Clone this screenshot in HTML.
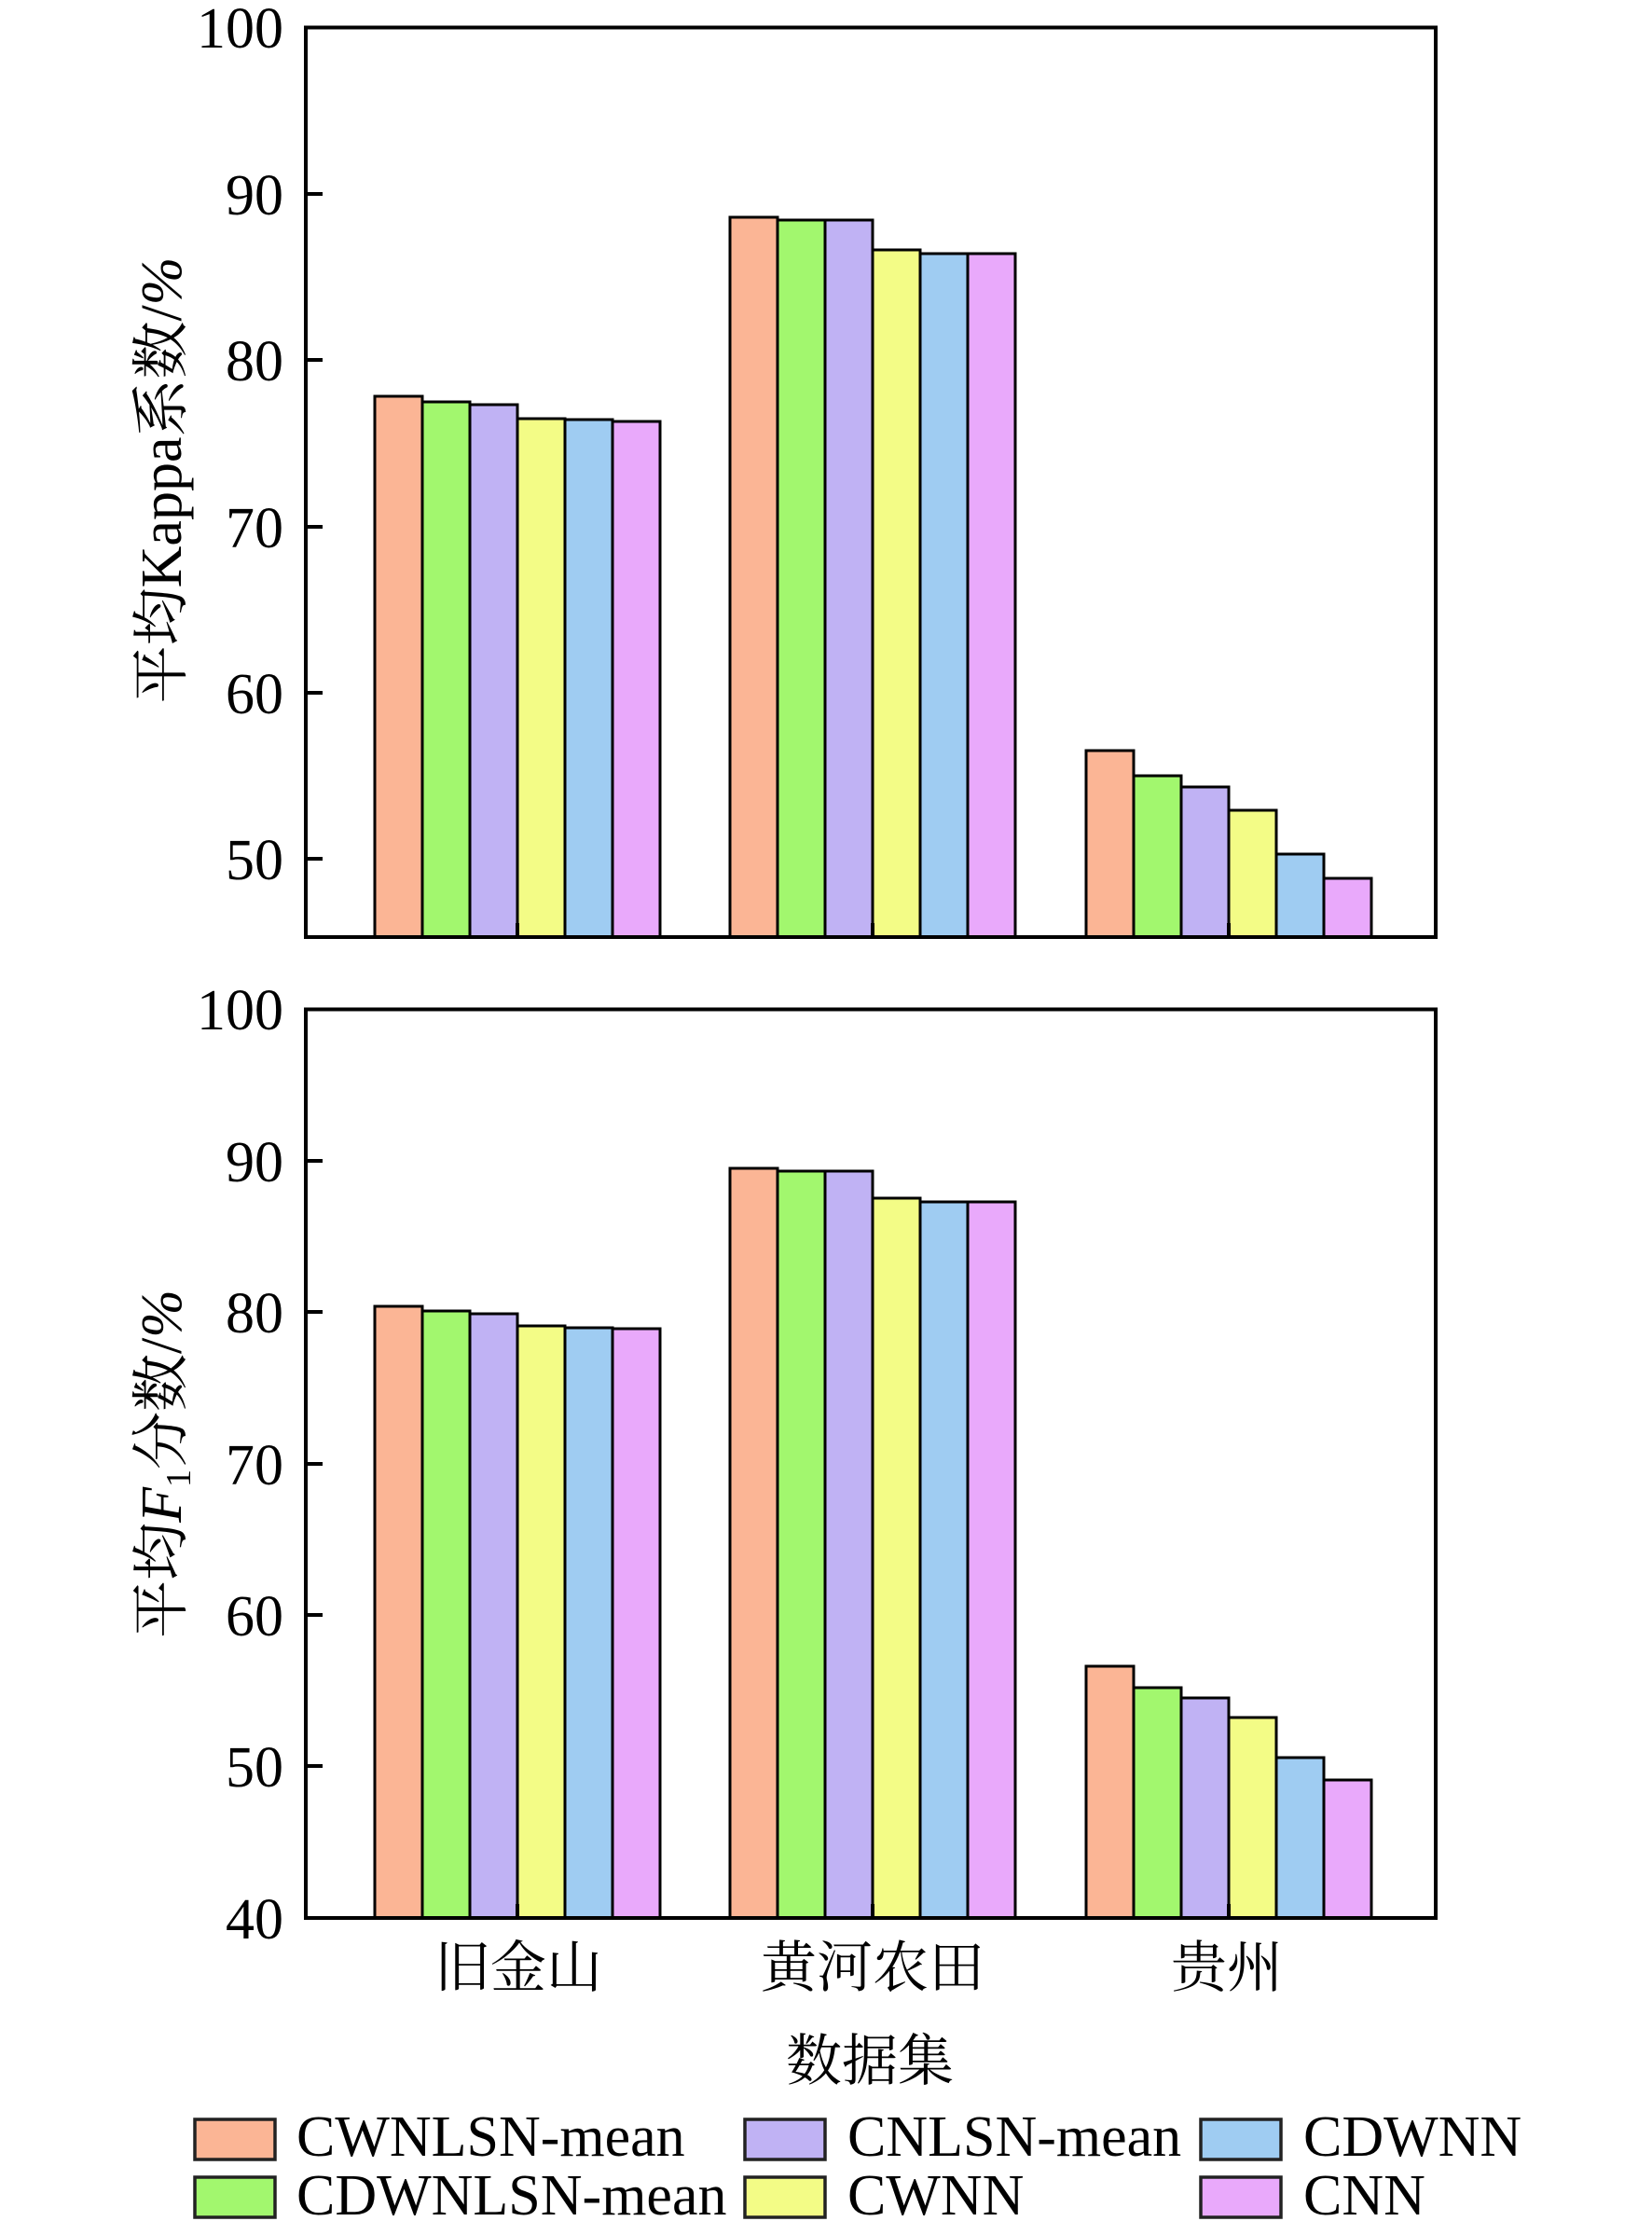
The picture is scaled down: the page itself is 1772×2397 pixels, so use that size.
<!DOCTYPE html>
<html><head><meta charset="utf-8"><style>html,body{margin:0;padding:0;background:#fff}svg{display:block}</style></head>
<body>
<svg xmlns="http://www.w3.org/2000/svg" width="1772" height="2397" viewBox="0 0 1772 2397">
<rect width="1772" height="2397" fill="#fff"/>
<g font-family="Liberation Serif, 'Noto Serif CJK SC', serif" fill="#000">
<g stroke="#000" stroke-width="3" fill="none">
<rect x="402" y="425" width="51" height="580" fill="#FBB595"/>
<rect x="453" y="431" width="51" height="574" fill="#A2F76E"/>
<rect x="504" y="434" width="51" height="571" fill="#C0B2F4"/>
<rect x="555" y="449" width="51" height="556" fill="#F3FC86"/>
<rect x="606" y="450" width="51" height="555" fill="#9FCCF2"/>
<rect x="657" y="452" width="51" height="553" fill="#E9A9FB"/>
<rect x="783" y="233" width="51" height="772" fill="#FBB595"/>
<rect x="834" y="236" width="51" height="769" fill="#A2F76E"/>
<rect x="885" y="236" width="51" height="769" fill="#C0B2F4"/>
<rect x="936" y="268" width="51" height="737" fill="#F3FC86"/>
<rect x="987" y="272" width="51" height="733" fill="#9FCCF2"/>
<rect x="1038" y="272" width="51" height="733" fill="#E9A9FB"/>
<rect x="1165" y="805" width="51" height="200" fill="#FBB595"/>
<rect x="1216" y="832" width="51" height="173" fill="#A2F76E"/>
<rect x="1267" y="844" width="51" height="161" fill="#C0B2F4"/>
<rect x="1318" y="869" width="51" height="136" fill="#F3FC86"/>
<rect x="1369" y="916" width="51" height="89" fill="#9FCCF2"/>
<rect x="1420" y="942" width="51" height="63" fill="#E9A9FB"/>
</g>
<rect x="328" y="29.5" width="1212" height="975.5" fill="none" stroke="#000" stroke-width="4"/>
<g stroke="#000" stroke-width="4">
<line x1="328" y1="208" x2="346" y2="208"/><line x1="328" y1="386" x2="346" y2="386"/>
<line x1="328" y1="565" x2="346" y2="565"/><line x1="328" y1="743" x2="346" y2="743"/>
<line x1="328" y1="921" x2="346" y2="921"/>
<line x1="555" y1="1005" x2="555" y2="990"/><line x1="936" y1="1005" x2="936" y2="990"/><line x1="1318" y1="1005" x2="1318" y2="990"/>
</g>
<g font-size="62" text-anchor="end">
<text x="304" y="51">100</text><text x="304" y="230">90</text><text x="304" y="408">80</text>
<text x="304" y="587">70</text><text x="304" y="765">60</text><text x="304" y="943">50</text>
</g>
<text transform="translate(194,515) rotate(-90)" font-size="62" text-anchor="middle">平均Kappa系数/<tspan font-style="italic">%</tspan></text>

<g stroke="#000" stroke-width="3" fill="none">
<rect x="402" y="1401" width="51" height="656" fill="#FBB595"/>
<rect x="453" y="1406" width="51" height="651" fill="#A2F76E"/>
<rect x="504" y="1409" width="51" height="648" fill="#C0B2F4"/>
<rect x="555" y="1422" width="51" height="635" fill="#F3FC86"/>
<rect x="606" y="1424" width="51" height="633" fill="#9FCCF2"/>
<rect x="657" y="1425" width="51" height="632" fill="#E9A9FB"/>
<rect x="783" y="1253" width="51" height="804" fill="#FBB595"/>
<rect x="834" y="1256" width="51" height="801" fill="#A2F76E"/>
<rect x="885" y="1256" width="51" height="801" fill="#C0B2F4"/>
<rect x="936" y="1285" width="51" height="772" fill="#F3FC86"/>
<rect x="987" y="1289" width="51" height="768" fill="#9FCCF2"/>
<rect x="1038" y="1289" width="51" height="768" fill="#E9A9FB"/>
<rect x="1165" y="1787" width="51" height="270" fill="#FBB595"/>
<rect x="1216" y="1810" width="51" height="247" fill="#A2F76E"/>
<rect x="1267" y="1821" width="51" height="236" fill="#C0B2F4"/>
<rect x="1318" y="1842" width="51" height="215" fill="#F3FC86"/>
<rect x="1369" y="1885" width="51" height="172" fill="#9FCCF2"/>
<rect x="1420" y="1909" width="51" height="148" fill="#E9A9FB"/>
</g>
<rect x="328" y="1082.5" width="1212" height="974.5" fill="none" stroke="#000" stroke-width="4"/>
<g stroke="#000" stroke-width="4">
<line x1="328" y1="1245" x2="346" y2="1245"/><line x1="328" y1="1407" x2="346" y2="1407"/>
<line x1="328" y1="1570" x2="346" y2="1570"/><line x1="328" y1="1732" x2="346" y2="1732"/>
<line x1="328" y1="1894" x2="346" y2="1894"/>
<line x1="555" y1="2057" x2="555" y2="2042"/><line x1="936" y1="2057" x2="936" y2="2042"/><line x1="1318" y1="2057" x2="1318" y2="2042"/>
</g>
<g font-size="62" text-anchor="end">
<text x="304" y="1104">100</text><text x="304" y="1267">90</text><text x="304" y="1429">80</text>
<text x="304" y="1592">70</text><text x="304" y="1754">60</text><text x="304" y="1916">50</text><text x="304" y="2079">40</text>
</g>
<text transform="translate(194,1570) rotate(-90)" font-size="62" text-anchor="middle">平均<tspan font-style="italic">F</tspan><tspan font-size="38" dy="10">1</tspan><tspan dy="-10">分数/</tspan><tspan font-style="italic">%</tspan></text>

<g font-size="60" text-anchor="middle">
<text x="556" y="2131">旧金山</text><text x="936" y="2131">黄河农田</text><text x="1316" y="2131">贵州</text>
<text x="933" y="2231">数据集</text>
</g>

<g stroke="#222" stroke-width="3.5">
<rect x="209" y="2273" width="86" height="43" fill="#FBB595"/>
<rect x="209" y="2335" width="86" height="43" fill="#A2F76E"/>
<rect x="799" y="2273" width="86" height="43" fill="#C0B2F4"/>
<rect x="799" y="2335" width="86" height="43" fill="#F3FC86"/>
<rect x="1288" y="2273" width="86" height="43" fill="#9FCCF2"/>
<rect x="1288" y="2335" width="86" height="43" fill="#E9A9FB"/>
</g>
<g font-size="62">
<text x="318" y="2312">CWNLSN-mean</text><text x="318" y="2375">CDWNLSN-mean</text>
<text x="909" y="2312">CNLSN-mean</text><text x="909" y="2375">CWNN</text>
<text x="1398" y="2312">CDWNN</text><text x="1398" y="2375">CNN</text>
</g>
</g>
</svg>
</body></html>
